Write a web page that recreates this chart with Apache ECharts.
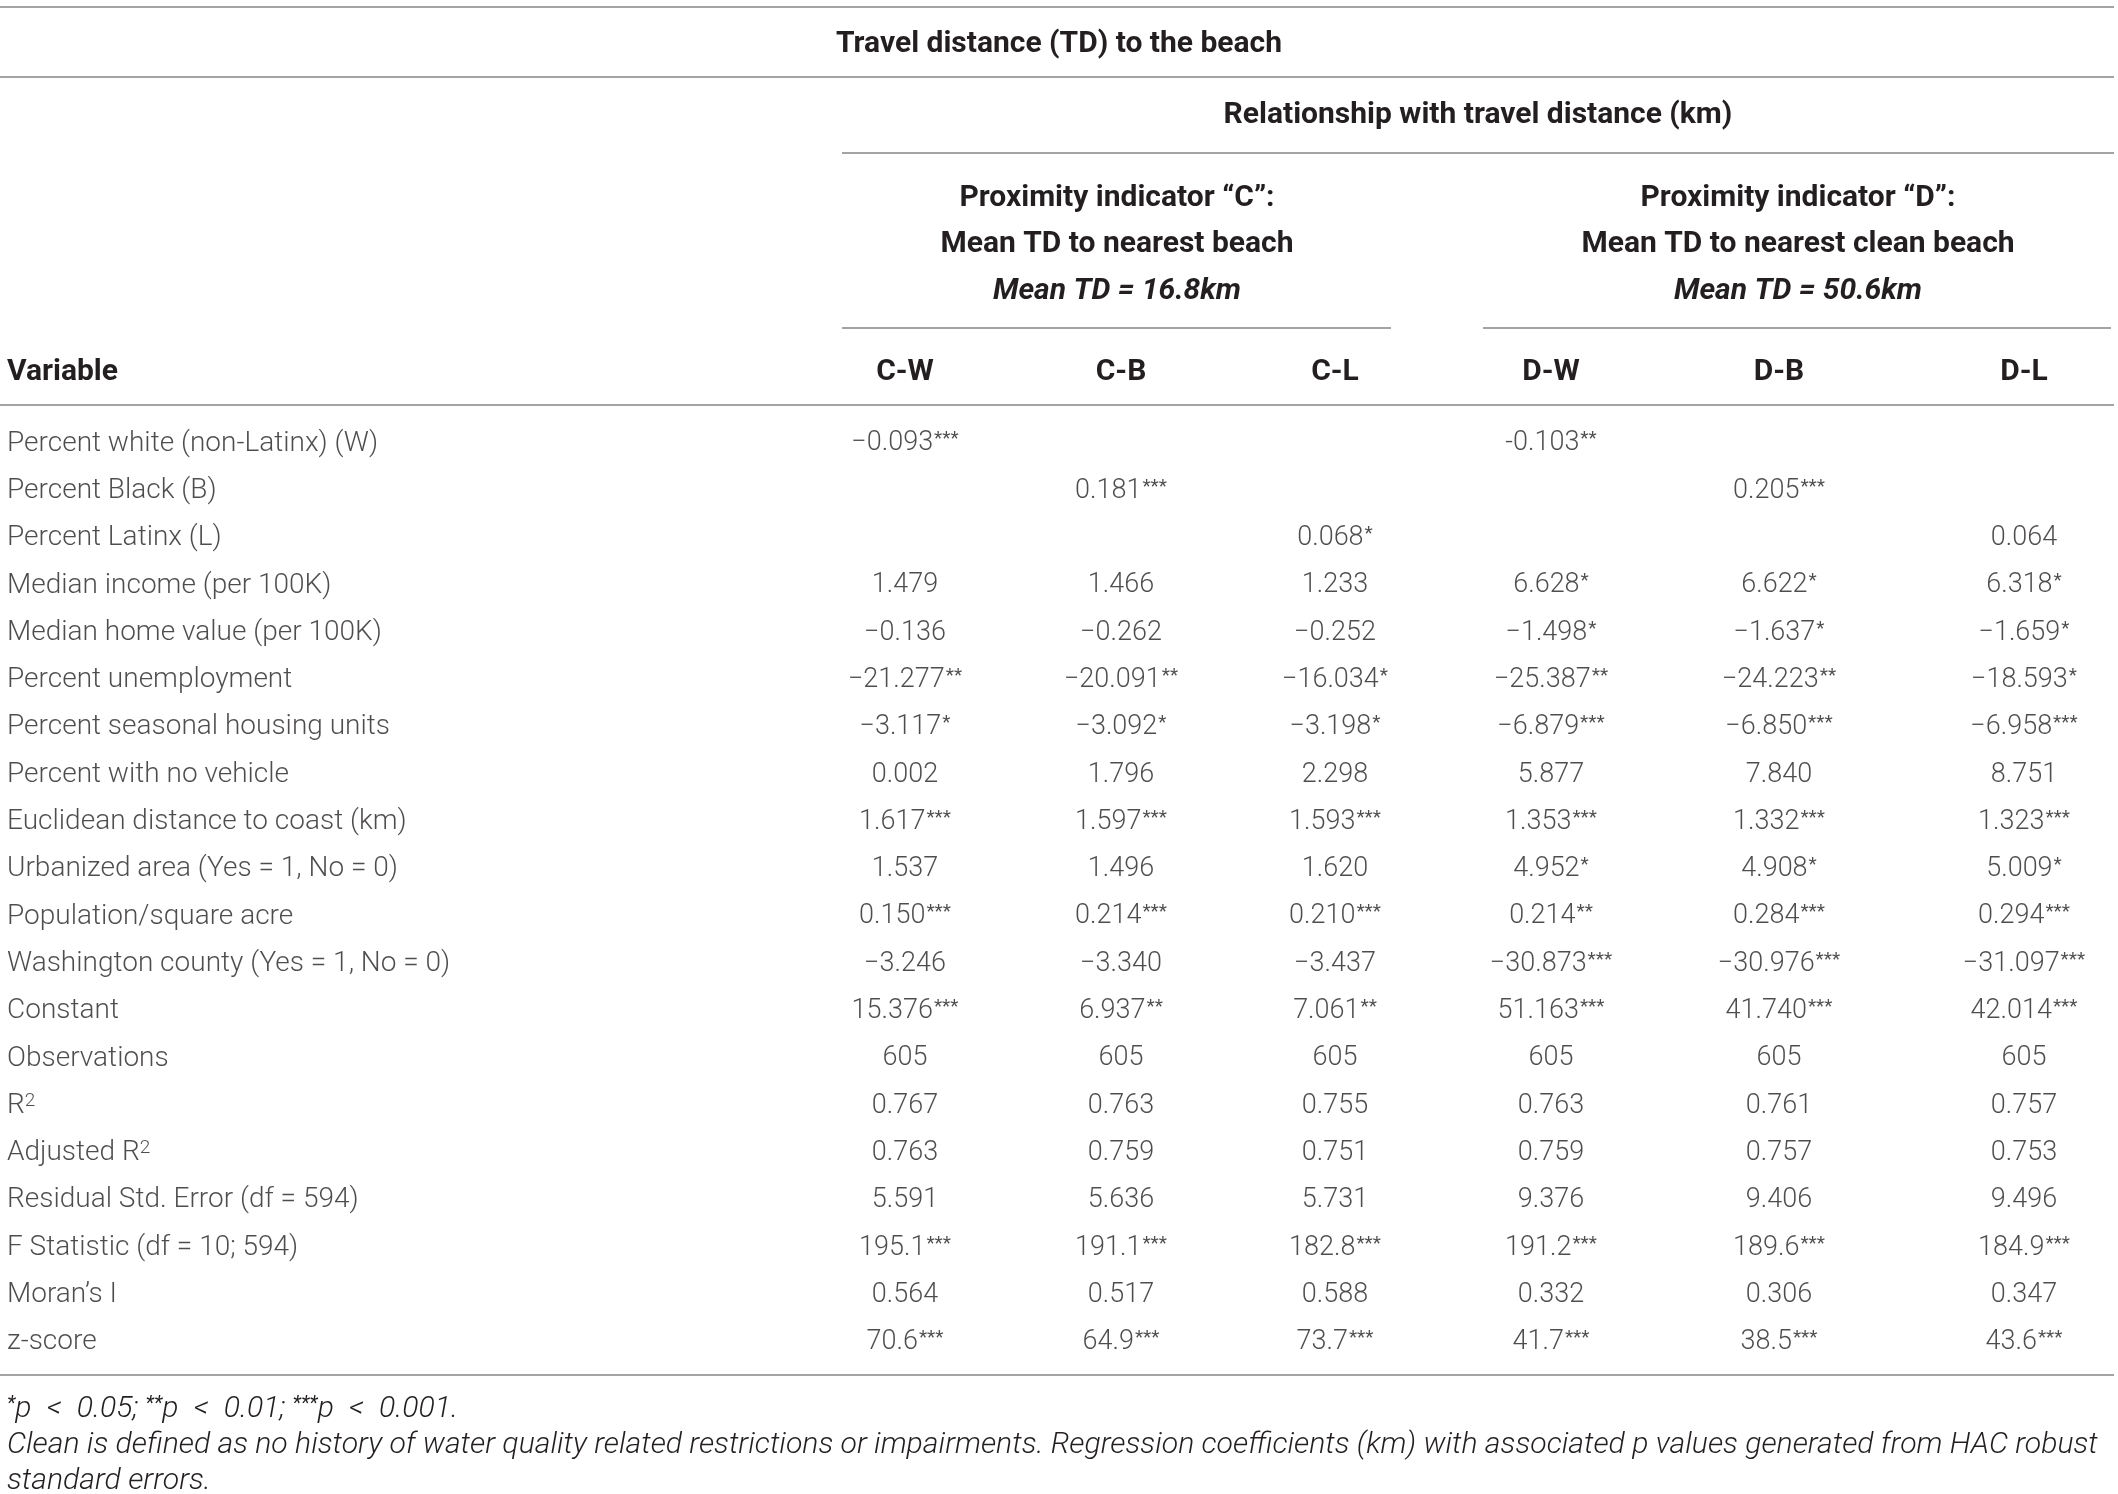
<!DOCTYPE html>
<html style="height: 100%">
 <head>
  <meta charset="utf-8" />
  <script src="https://cdn.jsdelivr.net/npm/echarts@6/dist/echarts.min.js"></script>
 </head>
 <body style="height: 100%; margin: 0; background: #fff">
  <div id="main" style="width: 2118px; height: 1494px;"></div>
  <script type="text/javascript">
   // table data
   var variables = [
     'Percent white (non-Latinx) (W)', 'Percent Black (B)', 'Percent Latinx (L)',
     'Median income (per 100K)', 'Median home value (per 100K)', 'Percent unemployment',
     'Percent seasonal housing units', 'Percent with no vehicle', 'Euclidean distance to coast (km)',
     'Urbanized area (Yes = 1, No = 0)', 'Population/square acre', 'Washington county (Yes = 1, No = 0)',
     'Constant', 'Observations', 'R²', 'Adjusted R²', 'Residual Std. Error (df = 594)',
     'F Statistic (df = 10; 594)', 'Moran’s I', 'z-score'
   ];
   var columns = ['C-W', 'C-B', 'C-L', 'D-W', 'D-B', 'D-L'];
   var colCW = ['−0.093***', '', '', '1.479', '−0.136', '−21.277**', '−3.117*', '0.002', '1.617***', '1.537',
     '0.150***', '−3.246', '15.376***', '605', '0.767', '0.763', '5.591', '195.1***', '0.564', '70.6***'];
   var colCB = ['', '0.181***', '', '1.466', '−0.262', '−20.091**', '−3.092*', '1.796', '1.597***', '1.496',
     '0.214***', '−3.340', '6.937**', '605', '0.763', '0.759', '5.636', '191.1***', '0.517', '64.9***'];
   var colCL = ['', '', '0.068*', '1.233', '−0.252', '−16.034*', '−3.198*', '2.298', '1.593***', '1.620',
     '0.210***', '−3.437', '7.061**', '605', '0.755', '0.751', '5.731', '182.8***', '0.588', '73.7***'];
   var colDW = ['-0.103**', '', '', '6.628*', '−1.498*', '−25.387**', '−6.879***', '5.877', '1.353***', '4.952*',
     '0.214**', '−30.873***', '51.163***', '605', '0.763', '0.759', '9.376', '191.2***', '0.332', '41.7***'];
   var colDB = ['', '0.205***', '', '6.622*', '−1.637*', '−24.223**', '−6.850***', '7.840', '1.332***', '4.908*',
     '0.284***', '−30.976***', '41.740***', '605', '0.761', '0.757', '9.406', '189.6***', '0.306', '38.5***'];
   var colDL = ['', '', '0.064', '6.318*', '−1.659*', '−18.593*', '−6.958***', '8.751', '1.323***', '5.009*',
     '0.294***', '−31.097***', '42.014***', '605', '0.757', '0.753', '9.496', '184.9***', '0.347', '43.6***'];

   var myChart = echarts.init(document.getElementById('main'));

   // layout
   var colX = [905, 1121, 1335, 1551, 1779, 2024];
   var ink = '#231f20';
   var rule = '#a3a3a3';
   var font = 'Roboto, "Liberation Sans", Arial, sans-serif';
   var bodySize = 28;
   var headSize = 30;

   function cellText(s) {
     var m = s.match(/^([^*]*)(\*+)$/);
     if (m) return m[1] + '{s|' + m[2] + '}';
     return s.replace('²', '{sup|2}');
   }
   var rich = {
     s: { fontSize: 19, fontFamily: font, fontWeight: 400, color: ink, verticalAlign: 'top', padding: [0, 0, 0, 1] },
     sup: { fontSize: 19, fontFamily: font, fontWeight: 300, color: ink, verticalAlign: 'top' }
   };

   var series = [{
     type: 'scatter',
     symbolSize: 0,
     data: variables.map(function (v, i) { return [7, i, v]; }),
     label: {
       show: true, position: 'right', distance: 0,
       formatter: function (p) { return cellText(p.data[2]); },
       fontSize: bodySize, fontFamily: font, fontWeight: 300, color: ink, rich: rich
     }
   }];
   [colCW, colCB, colCL, colDW, colDB, colDL].forEach(function (col, c) {
     series.push({
       type: 'scatter',
       name: columns[c],
       symbolSize: 0,
       data: col.map(function (v, i) { return [colX[c], i, v]; }),
       label: {
         show: true, position: 'inside',
         formatter: function (p) { return cellText(p.data[2]); },
         fontSize: 27, fontFamily: font, fontWeight: 300, color: ink, rich: rich
       }
     });
   });

   function hline(x1, x2, y) {
     return { type: 'line', shape: { x1: x1, y1: y, x2: x2, y2: y }, style: { stroke: rule, lineWidth: 2 } };
   }
   function btext(x, y, s, italic, align) {
     return {
       type: 'text', x: x, y: y,
       style: {
         text: s, fill: ink, font: (italic ? 'italic ' : '') + '700 ' + headSize + 'px ' + font,
         align: align || 'center', verticalAlign: 'middle'
       }
     };
   }

   var graphic = [
     hline(0, 2114, 7), hline(0, 2114, 77), hline(842, 2114, 153),
     hline(842, 1391, 328), hline(1483, 2111, 328), hline(0, 2114, 405), hline(0, 2114, 1375),
     btext(1059, 44, 'Travel distance (TD) to the beach'),
     btext(1478, 115, 'Relationship with travel distance (km)'),
     btext(1117, 198, 'Proximity indicator “C”:'),
     btext(1117, 244, 'Mean TD to nearest beach'),
     btext(1117, 291, 'Mean TD = 16.8km', true),
     btext(1798, 198, 'Proximity indicator “D”:'),
     btext(1798, 244, 'Mean TD to nearest clean beach'),
     btext(1798, 291, 'Mean TD = 50.6km', true),
     btext(7, 372, 'Variable', false, 'left')
   ];
   columns.forEach(function (c, i) { graphic.push(btext(colX[i], 372, c)); });
   var noteFont = 'italic 300 30.2px ' + font;
   graphic.push({
     type: 'text', x: 7, y: 1409,
     style: {
       text: '{s|*}p\u2002<\u20020.05; {s|**}p\u2002<\u20020.01; {s|***}p\u2002<\u20020.001.',
       fill: ink, font: noteFont, verticalAlign: 'middle',
       rich: { s: { fontSize: 20, fontStyle: 'italic', fontFamily: font, verticalAlign: 'top', fill: ink } }
     }
   });
   graphic.push({
     type: 'text', x: 7, y: 1445,
     style: {
       text: 'Clean is defined as no history of water quality related restrictions or impairments. Regression coefficients (km) with associated p values generated from HAC robust',
       fill: ink, font: noteFont, verticalAlign: 'middle'
     }
   });
   graphic.push({
     type: 'text', x: 7, y: 1481,
     style: { text: 'standard errors.', fill: ink, font: noteFont, verticalAlign: 'middle' }
   });

   var option = {
     animation: false,
     backgroundColor: '#fff',
     grid: { left: 0, right: 0, top: 420, height: 946 },
     xAxis: { type: 'value', min: 0, max: 2118, show: false },
     yAxis: { type: 'category', inverse: true, data: variables.map(function (v, i) { return i; }), show: false },
     graphic: graphic,
     series: series
   };
   myChart.setOption(option);
  </script>
 </body>
</html>
